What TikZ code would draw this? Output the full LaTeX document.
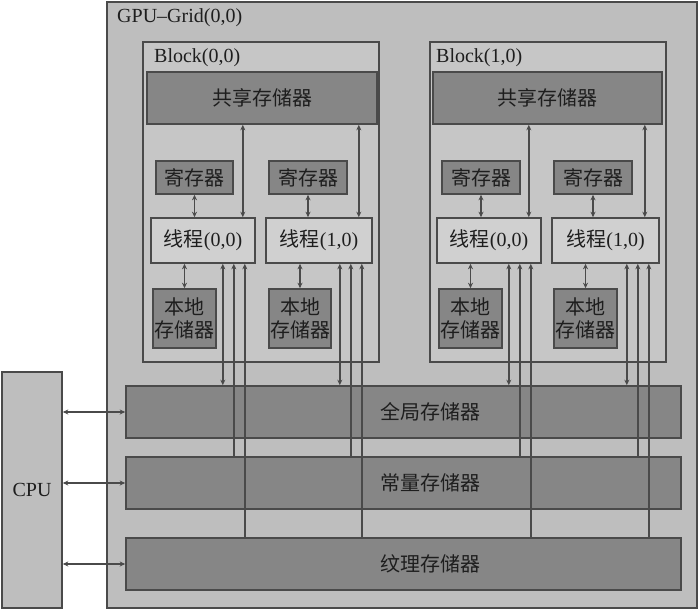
\documentclass[tikz,border=0pt]{standalone}
\usepackage{fontspec}
\setmainfont{Liberation Serif}
\newfontfamily\cjk{Noto Sans CJK SC}
\usetikzlibrary{arrows.meta}
\definecolor{gridbg}{HTML}{BEBEBE}
\definecolor{blockbg}{HTML}{C6C6C6}
\definecolor{threadbg}{HTML}{D0D0D0}
\definecolor{darkfill}{HTML}{868686}
\definecolor{edge}{HTML}{4A4A4A}
\definecolor{ink}{HTML}{1E1E1E}
\begin{document}
\begin{tikzpicture}[x=1pt,y=-1pt,
  box/.style={draw=edge, line width=1.6pt, inner sep=0pt, text=ink, font=\fontsize{20}{23}\selectfont, align=center},
  gridbox/.style={box, fill=gridbg},
  blockbox/.style={box, fill=blockbg},
  threadbox/.style={box, fill=threadbg},
  darkbox/.style={box, fill=darkfill},
  lbl/.style={inner sep=0pt, text=ink, font=\fontsize{20}{23}\selectfont},
  conn/.style={draw=edge, line width=1.6pt},
  dbl/.style={conn, {Stealth[length=5.5pt,width=5pt]}-{Stealth[length=5.5pt,width=5pt]}},
  upa/.style={conn, {Stealth[length=5.5pt,width=5pt]}-}
]
\useasboundingbox (0,0) rectangle (700,610);
\fill[white] (0,0) rectangle (700,610);

% outer grid and CPU
\node[gridbox, minimum width=590pt, minimum height=606pt] (grid) at (402,305) {};
\node[lbl, anchor=base west] (gridlbl) at (117,23) {GPU–Grid(0,0)};
\node[gridbox, minimum width=60pt, minimum height=236pt] (cpu) at (32,490) {CPU};

% blocks
\node[blockbox, minimum width=236pt, minimum height=320pt] (b0) at (261,202) {};
\node[blockbox, minimum width=236pt, minimum height=320pt] (b1) at (548,202) {};
\node[lbl, anchor=base west] (b0lbl) at (154,63) {Block(0,0)};
\node[lbl, anchor=base west] (b1lbl) at (436,63) {Block(1,0)};

% shared memory
\node[darkbox, minimum width=230pt, minimum height=52pt] (sh0) at (262,98) {\cjk 共享存储器};
\node[darkbox, minimum width=229pt, minimum height=52pt] (sh1) at (547.5,98) {\cjk 共享存储器};

% registers
\node[darkbox, minimum width=77pt, minimum height=33pt] (r00) at (194.5,177.5) {\cjk 寄存器};
\node[darkbox, minimum width=78pt, minimum height=33pt] (r01) at (308,177.5) {\cjk 寄存器};
\node[darkbox, minimum width=78pt, minimum height=33pt] (r10) at (481,177.5) {\cjk 寄存器};
\node[darkbox, minimum width=78pt, minimum height=33pt] (r11) at (593,177.5) {\cjk 寄存器};

% threads
\node[threadbox, minimum width=104pt, minimum height=45pt] (t00) at (203,240.5) {{\cjk 线程}(0,0)};
\node[threadbox, minimum width=106pt, minimum height=45pt] (t01) at (319,240.5) {{\cjk 线程}(1,0)};
\node[threadbox, minimum width=104pt, minimum height=45pt] (t10) at (489,240.5) {{\cjk 线程}(0,0)};
\node[threadbox, minimum width=107pt, minimum height=45pt] (t11) at (605.5,240.5) {{\cjk 线程}(1,0)};

% local memory
\node[darkbox, minimum width=63pt, minimum height=59pt] (l00) at (184.5,318.5) {\cjk 本地\\\cjk 存储器};
\node[darkbox, minimum width=62pt, minimum height=59pt] (l01) at (300,318.5) {\cjk 本地\\\cjk 存储器};
\node[darkbox, minimum width=63pt, minimum height=59pt] (l10) at (470.5,318.5) {\cjk 本地\\\cjk 存储器};
\node[darkbox, minimum width=63pt, minimum height=59pt] (l11) at (585.5,318.5) {\cjk 本地\\\cjk 存储器};

% global / constant / texture memory
\node[darkbox, minimum width=555pt, minimum height=52pt] (gm) at (403.5,412) {};
\node[darkbox, minimum width=555pt, minimum height=52pt] (cm) at (403.5,483) {};
\node[darkbox, minimum width=555pt, minimum height=52pt] (tm) at (403.5,564) {};
\node[lbl] (gmlbl) at (430,412) {\cjk 全局存储器};
\node[lbl] (cmlbl) at (430,483) {\cjk 常量存储器};
\node[lbl] (tmlbl) at (430,564) {\cjk 纹理存储器};

% CPU connectors
\draw[dbl] (cpu.east |- gm.west) -- (gm.west);
\draw[dbl] (cpu.east |- cm.west) -- (cm.west);
\draw[dbl] (cpu.east |- tm.west) -- (tm.west);

% shared <-> thread
\path ([xshift=-13pt]t00.north east) coordinate (s00)
      ([xshift=-14pt]t01.north east) coordinate (s01)
      ([xshift=-13pt]t10.north east) coordinate (s10)
      ([xshift=-15pt]t11.north east) coordinate (s11);
\draw[dbl] (sh0.south -| s00) -- (s00);
\draw[dbl] (sh0.south -| s01) -- (s01);
\draw[dbl] (sh1.south -| s10) -- (s10);
\draw[dbl] (sh1.south -| s11) -- (s11);

% register <-> thread, thread <-> local
\foreach \r/\t/\l in {r00/t00/l00, r01/t01/l01, r10/t10/l10, r11/t11/l11}{
  \draw[dbl] (\r.south) -- (\r.south |- \t.north);
  \draw[dbl] (\t.south -| \l.north) -- (\l.north);
}

% thread -> global / constant / texture
\foreach \t in {t00,t01,t10,t11}{
  \path ([xshift=-33pt]\t.south east) coordinate (\t a)
        ([xshift=-22pt]\t.south east) coordinate (\t b)
        ([xshift=-11pt]\t.south east) coordinate (\t c);
  \draw[dbl] (\t a) -- (\t a |- gm.north);
  \draw[upa] (\t b) -- (\t b |- cm.north);
  \draw[upa] (\t c) -- (\t c |- tm.north);
}
\end{tikzpicture}
\end{document}
